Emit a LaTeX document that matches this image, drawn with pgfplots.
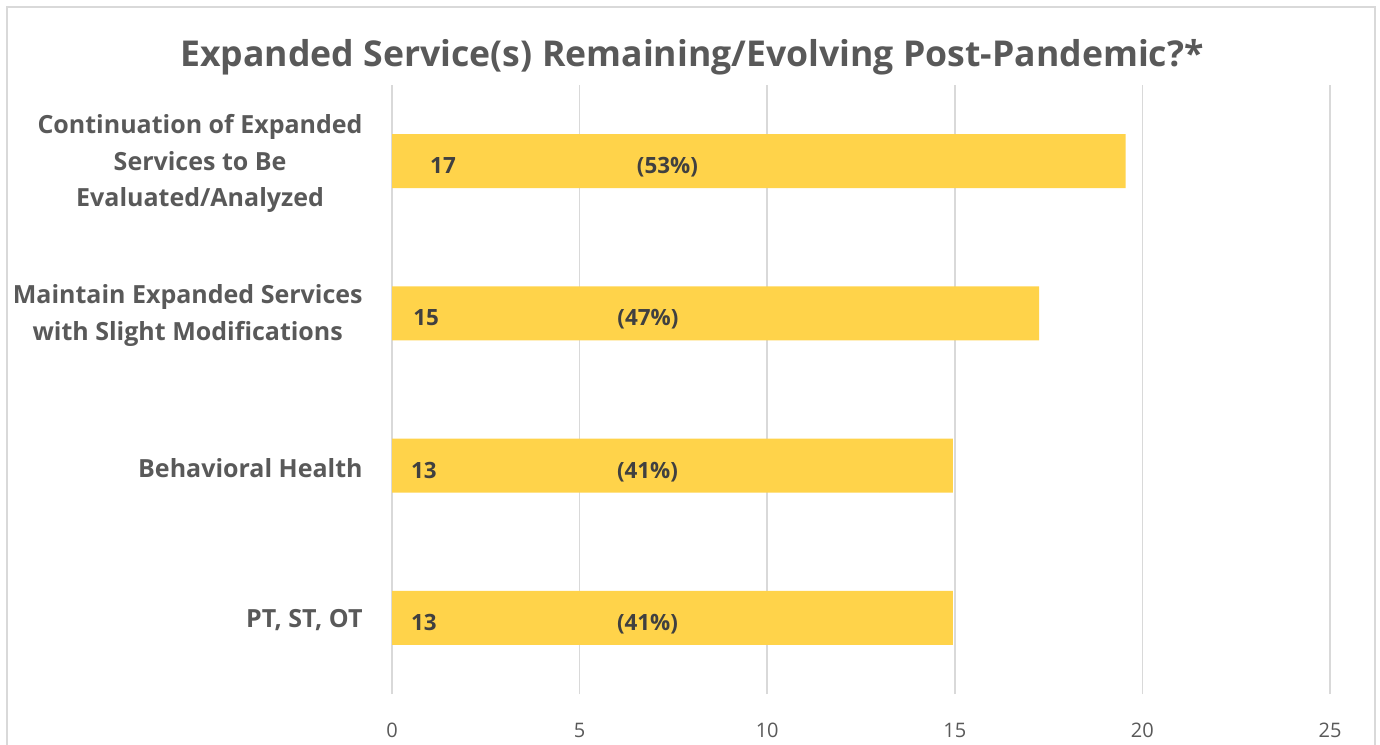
\documentclass[border=0pt]{standalone}
\usepackage{pgfplots}
\pgfplotsset{compat=1.18}
\usepackage{fontspec}
\setmainfont{Open Sans}
\definecolor{barc}{HTML}{FFD34A}
\definecolor{txt}{HTML}{595959}
\definecolor{lbl}{HTML}{404040}
\definecolor{gridc}{HTML}{D9D9D9}
\begin{document}
\begin{tikzpicture}[vl/.style={font=\bfseries\fontsize{11.2}{14}\selectfont, text=lbl, anchor=base, yshift=-6.3pt}]
\useasboundingbox (0,0) rectangle (690pt,372pt);
\draw[gridc, line width=1pt] (3.5pt,-5pt) -- (3.5pt,368.5pt) -- (687.5pt,368.5pt) -- (687.5pt,-5pt);
\node[font=\bfseries\fontsize{17.8}{22}\selectfont, text=txt, anchor=base] at (346pt,338.5pt) {Expanded Service(s) Remaining/Evolving Post-Pandemic?*};
\begin{axis}[
  at={(196pt,25pt)}, anchor=south west,
  scale only axis, width=469pt, height=304.5pt,
  xbar stacked, bar width=27pt,
  xmin=0, xmax=25, ymin=-0.5, ymax=3.5,
  xtick={0,5,...,25}, ytick={0,1,2,3},
  yticklabels={{PT, ST, OT}, {Behavioral Health}, {Maintain Expanded Services\\with Slight Modifications}, {Continuation of Expanded\\Services to Be\\Evaluated/Analyzed}},
  axis line style={draw=none},
  major tick length=0pt,
  xmajorgrids, major grid style={gridc, line width=0.8pt},
  /pgf/number format/assume math mode=true,
  xticklabel style={font=\fontsize{10}{12}\selectfont, text=txt, inner sep=0pt, anchor=north, yshift=-14.5pt},
  yticklabel style={font=\bfseries\fontsize{12.5}{18.3}\selectfont, text=txt, align=center, inner sep=0pt, anchor=east, xshift=-14.5pt, yshift=-1.2pt},
  clip=false,
]
\addplot[fill=barc, draw=none] coordinates {(13,0) (13,1) (15,2) (17,3)};
\addplot[fill=barc, draw=none] coordinates {(1.95,0) (1.95,1) (2.25,2) (2.55,3)};
\coordinate (a3) at (axis cs:1.36,3);
\coordinate (b3) at (axis cs:7.34,3);
\coordinate (a2) at (axis cs:0.91,2);
\coordinate (b2) at (axis cs:6.82,2);
\coordinate (a1) at (axis cs:0.85,1);
\coordinate (b1) at (axis cs:6.81,1);
\coordinate (a0) at (axis cs:0.85,0);
\coordinate (b0) at (axis cs:6.81,0);
\end{axis}
\node[vl] at (a3) {17};
\node[vl] at (b3) {(53\%)};
\node[vl] at (a2) {15};
\node[vl] at (b2) {(47\%)};
\node[vl] at (a1) {13};
\node[vl] at (b1) {(41\%)};
\node[vl] at (a0) {13};
\node[vl] at (b0) {(41\%)};
\end{tikzpicture}
\end{document}
